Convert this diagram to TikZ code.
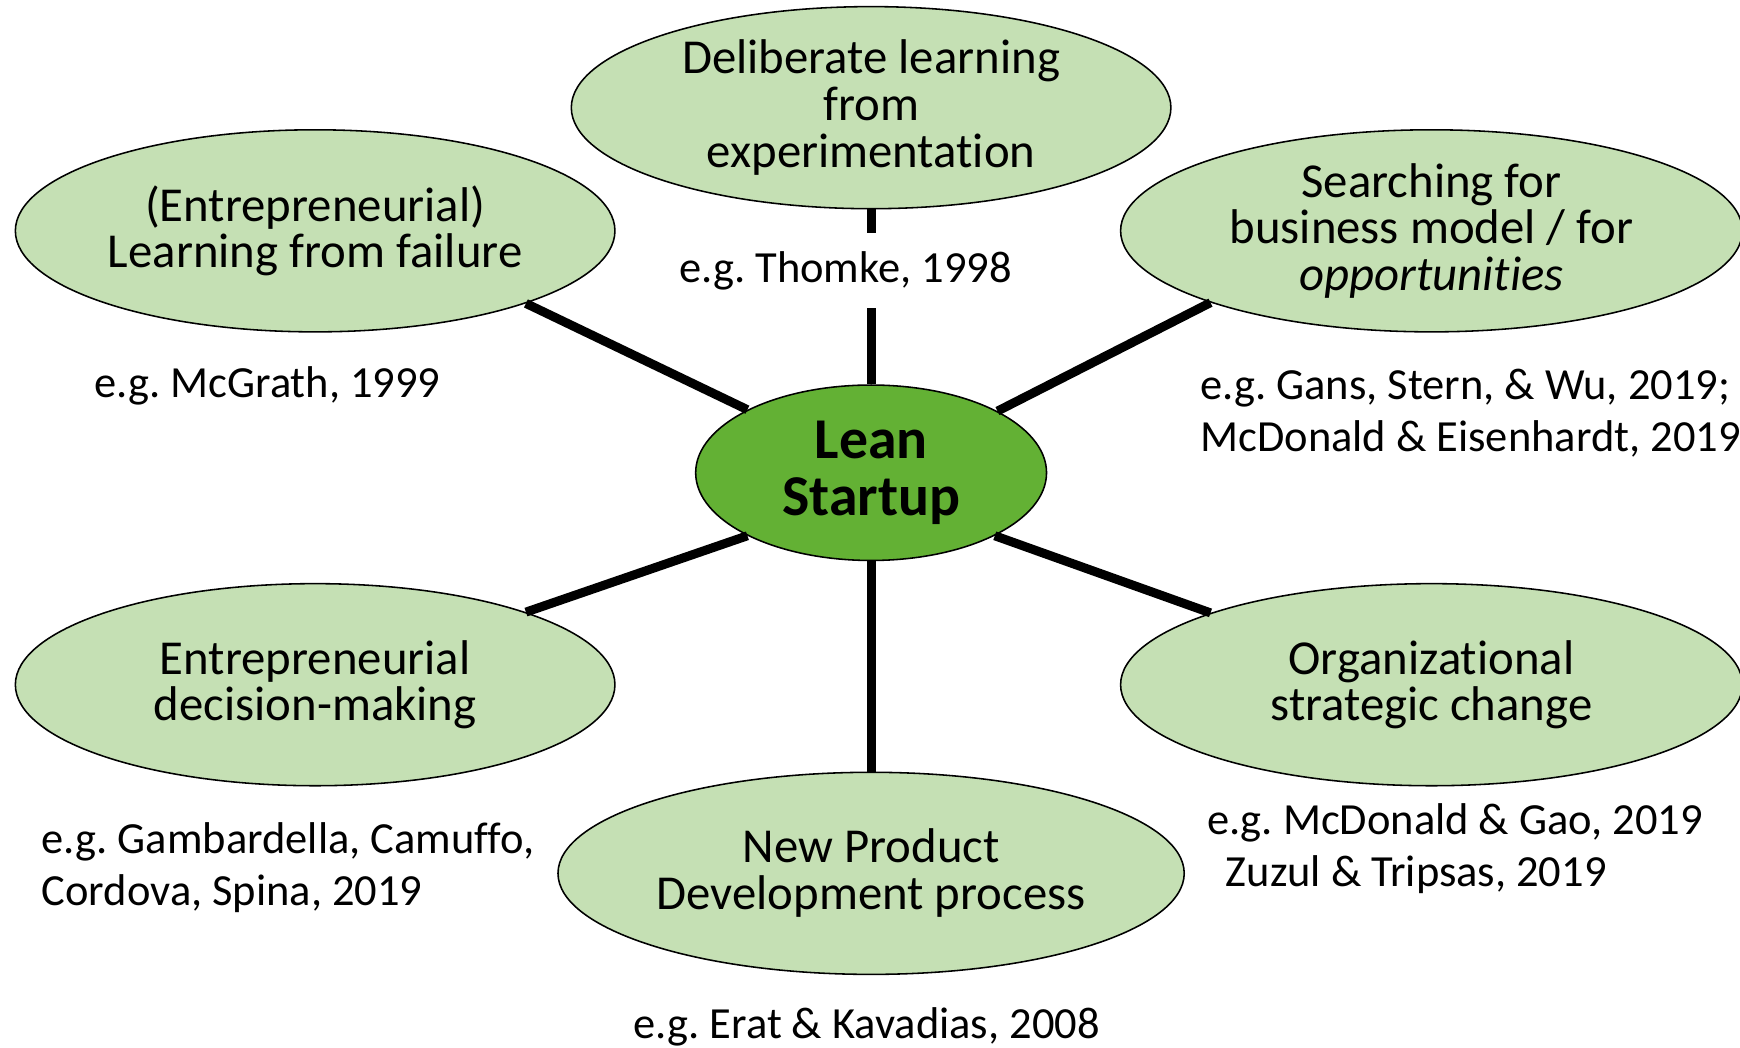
\documentclass[tikz,border=0pt]{standalone}
\usepackage{fontspec}
\setmainfont{Carlito}[RawFeature=-liga, RawFeature=-clig, RawFeature=-dlig, RawFeature=-calt]
\usetikzlibrary{shapes.geometric}
\definecolor{topicgreen}{HTML}{C5E0B4}
\definecolor{hubgreen}{HTML}{63B134}
\frenchspacing
\tikzset{
	topic/.style={ellipse, draw, line width=.4pt, fill=topicgreen, inner sep=0pt,
		minimum width=5.4cm, minimum height=1.82cm, align=center,
		font=\fontsize{12.5}{12}\selectfont},
	hub/.style={ellipse, draw, line width=.4pt, fill=hubgreen, inner sep=0pt,
		minimum width=3.16cm, minimum height=1.58cm, align=center,
		font=\fontsize{14.8}{14.5}\selectfont\bfseries},
	ref/.style={inner sep=0pt, align=left, font=\fontsize{11.4}{13.4}\selectfont},
	spoke/.style={line width=2.3pt}
}
\begin{document}
\begin{tikzpicture}[x=.01cm, y=-.01cm]
		\useasboundingbox (0,0) rectangle (1568,944);
		
		\node [hub] (lean) at (785,426) {Lean\\Startup};
		
		\node [topic] (exp) at (785,97) {Deliberate learning\\from\\experimentation};
		\node [topic] (fail) at (284,208) {(Entrepreneurial)\\Learning from failure};
		\node [topic, minimum width=5.6cm] (search) at (1290,208) {Searching for\\business model / for\\\textit{opportunities}};
		\node [topic] (dec) at (284,617) {Entrepreneurial\\decision-making};
		\node [topic, minimum width=5.6cm] (org) at (1290,617) {Organizational\\strategic change};
		\node [topic, minimum width=5.64cm] (npd) at (785,787) {New Product\\Development process};
		
		\draw [spoke] (exp.south) -- (lean.north);
		\draw [spoke] (fail.-19) -- (lean.153);
		\draw [spoke] (search.198) -- (lean.26);
		\draw [spoke] (dec.19) -- (lean.207);
		\draw [spoke] (org.162) -- (lean.333);
		\draw [spoke] (npd.north) -- (lean.south);
		
		% references
		\node [ref, fill=white, inner ysep=.165cm] (exp ref) at (762,244) {e.g. Thomke, 1998};
		\node [ref] (fail ref) at (241,348) {e.g. McGrath, 1999};
		\node [ref, anchor=west] (search ref) at (1081,372) {e.g. Gans, Stern, \& Wu, 2019;\\McDonald \& Eisenhardt, 2019};
		\node [ref, anchor=west] (dec ref) at (37,782) {e.g. Gambardella, Camuffo,\\Cordova, Spina, 2019};
		\node [ref, anchor=west] (org ref) at (1087,765) {e.g. McDonald \& Gao, 2019\\\hspace{.17cm}Zuzul \& Tripsas, 2019};
		\node [ref] (npd ref) at (781,925) {e.g. Erat \& Kavadias, 2008};
\end{tikzpicture}
\end{document}
